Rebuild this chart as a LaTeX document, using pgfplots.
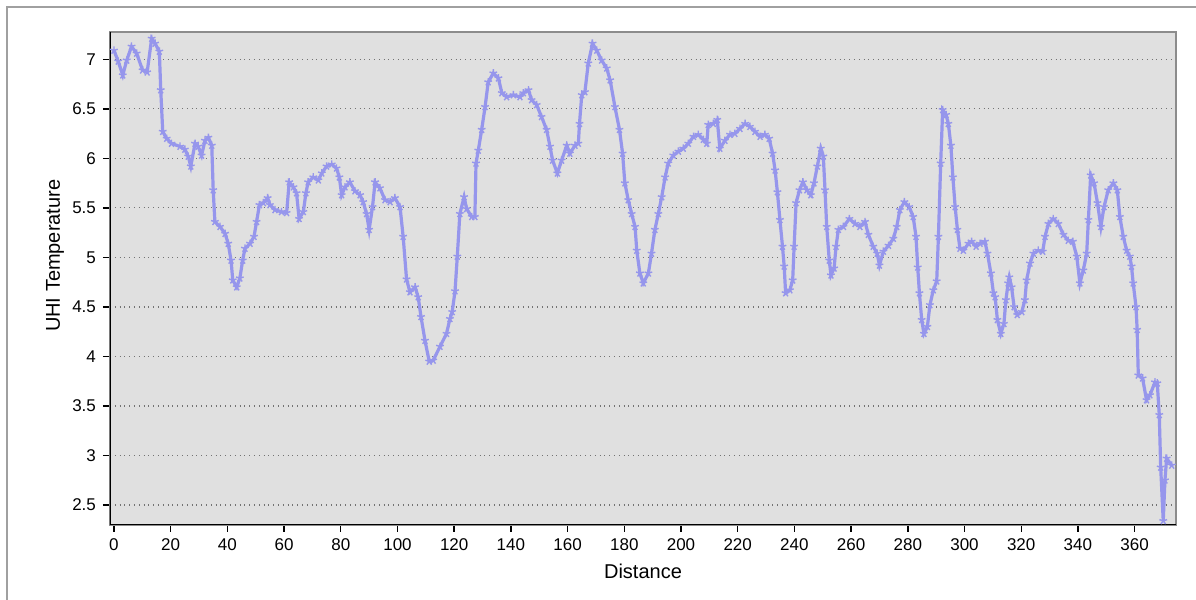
\documentclass[border=0pt]{standalone}
\usepackage{fontspec}
\setmainfont{Liberation Sans}
\usepackage{pgfplots}
\pgfplotsset{compat=1.18}
\definecolor{uhi}{RGB}{150,150,236}
\definecolor{bggray}{RGB}{224,224,224}
\definecolor{framegray}{RGB}{160,160,160}
\begin{document}
\begin{tikzpicture}
\useasboundingbox (-55pt,-37.5pt) rectangle (543pt,262.5pt);
\fill[white] (-55pt,-37.5pt) rectangle (543pt,262.5pt);
\draw[framegray, line width=0.6pt] (-51.5pt,-40pt) -- (-51.5pt,259pt) -- (546pt,259pt);
\begin{axis}[
  at={(0,0)}, anchor=south west,
  scale only axis,
  width=533pt, height=246.5pt,
  xmin=-1.4, xmax=374.6,
  ymin=2.298, ymax=7.276,
  xtick={0,20,...,360},
  ytick={2.5,3,3.5,4,4.5,5,5.5,6,6.5,7},
  yticklabels={2.5,3,3.5,4,4.5,5,5.5,6,6.5,7},
  /pgf/number format/assume math mode=true,
  tick align=outside,
  tick pos=left,
  major tick length=3.5pt,
  tick style={black, line width=0.7pt},
  ticklabel style={font=\fontsize{8.5}{10}\selectfont},
  ymajorgrids,
  grid style={dotted, black!55, line width=0.6pt},
  axis background/.style={fill=bggray},
  axis line style={black!45, line width=0.8pt},
  xlabel={Distance},
  ylabel={UHI Temperature},
  label style={font=\fontsize{10}{12}\selectfont},
  every axis x label/.style={at={(axis description cs:0.5,0)}, anchor=center, yshift=-23pt},
  every axis y label/.style={at={(axis description cs:-0.0516,0.546)}, anchor=center, rotate=90},
  clip=true,
]
\addplot[uhi, line width=1.6pt, mark=star, mark size=2pt, mark options={solid, line width=0.7pt}] coordinates {
(0,7.09) (1.5,6.98) (3.1,6.84) (4.5,6.99) (6.2,7.13) (8,7.06) (10.1,6.89) (11.7,6.87)
(13.3,7.21) (14.5,7.16) (16,7.08) (16.5,6.69) (17.2,6.27) (18.6,6.20) (20.3,6.15) (23.3,6.12)
(25,6.09) (26.2,6.02) (27.1,5.92) (28.6,6.15) (29.7,6.12) (30.9,6.03) (32.1,6.18) (33.3,6.21)
(34.5,6.13) (35,5.68) (35.6,5.36) (37.4,5.31) (39.2,5.24) (40.3,5.14) (41.3,4.97) (41.9,4.77)
(43.3,4.70) (44.4,4.79) (45.4,4.97) (46.2,5.09) (48,5.14) (49.4,5.21) (50.3,5.36) (51.3,5.53)
(52.7,5.55) (54.2,5.60) (55,5.53) (56.8,5.48) (59.1,5.46) (60.9,5.45) (61.8,5.76) (63.3,5.71)
(64.4,5.65) (65.3,5.39) (66.8,5.46) (67.7,5.65) (68.5,5.76) (70.3,5.81) (72.1,5.78) (73.3,5.85)
(75,5.92) (76.8,5.94) (78.5,5.90) (79.5,5.81) (80.3,5.63) (81.5,5.71) (83.2,5.76) (85,5.67)
(86.8,5.63) (87.9,5.56) (89.1,5.44) (90,5.28) (91.2,5.51) (92.1,5.76) (93.8,5.70) (95.6,5.58)
(97.4,5.56) (99.1,5.60) (100.9,5.51) (102,5.21) (103.2,4.78) (104.4,4.65) (106.2,4.70) (107.3,4.60)
(108.3,4.40) (109.7,4.16) (111.2,3.95) (112.6,3.96) (115,4.10) (117.3,4.23) (118.5,4.38) (119.3,4.45)
(120.3,4.66) (121.1,5.01) (122,5.44) (123.5,5.61) (124.4,5.49) (126.2,5.41) (127.3,5.41) (127.7,5.95)
(128.5,6.08) (129.7,6.29) (130.9,6.52) (132,6.77) (133.8,6.86) (135.6,6.81) (136.8,6.66) (138.5,6.62)
(140.9,6.64) (143.2,6.62) (144.4,6.66) (146.2,6.69) (147.3,6.59) (149.1,6.54) (150.8,6.42) (152.6,6.29)
(153.8,6.12) (154.7,5.98) (156.4,5.85) (157.9,5.98) (159.7,6.13) (160.8,6.05) (162.6,6.13) (163.8,6.15)
(164.2,6.35) (165,6.64) (166.1,6.67) (167.3,6.96) (168.8,7.16) (170.3,7.09) (172,6.99) (173.8,6.91)
(175,6.79) (176.7,6.52) (178.3,6.29) (179.4,6.05) (180.2,5.75) (181.4,5.58) (182.6,5.44) (183.8,5.31)
(184.4,5.07) (185.5,4.84) (186.7,4.74) (188.5,4.84) (189.6,5.04) (190.8,5.28) (192,5.44) (193.2,5.61)
(194.4,5.81) (195.5,5.95) (197.3,6.03) (199.1,6.07) (200.8,6.10) (202.6,6.15) (204.4,6.22) (206.1,6.24)
(207.9,6.19) (209.1,6.15) (209.6,6.34) (211.4,6.35) (212.8,6.39) (213.7,6.10) (215.5,6.18) (217.3,6.24)
(219,6.25) (220.8,6.30) (222.6,6.35) (224.3,6.32) (226.1,6.27) (227.9,6.22) (229.6,6.24) (231.1,6.20)
(232.3,6.05) (233.2,5.88) (234,5.66) (234.9,5.38) (235.8,5.11) (236.4,4.91) (236.9,4.64) (238.4,4.67)
(239.4,4.77) (239.9,5.11) (240.6,5.55) (241.8,5.68) (243,5.76) (244.4,5.68) (245.8,5.63) (246.9,5.75)
(248.1,5.92) (249.3,6.10) (250.2,6.02) (250.8,5.68) (251.4,5.31) (252.3,4.97) (252.9,4.82) (254,4.89)
(254.7,5.11) (255.5,5.28) (257.3,5.31) (259.4,5.39) (261.4,5.34) (263.1,5.31) (264.9,5.36) (266.1,5.23)
(267.8,5.11) (269.2,5.04) (270,4.92) (271.4,5.06) (273.2,5.12) (274.9,5.19) (276.1,5.31) (277.2,5.48)
(278.8,5.56) (280.5,5.51) (281.9,5.41) (282.9,5.21) (283.5,4.90) (284.1,4.64) (284.9,4.37) (285.7,4.23)
(286.9,4.30) (287.8,4.52) (289,4.67) (290.2,4.76) (290.8,5.21) (291.6,5.95) (292.3,6.49) (293.5,6.44)
(294.3,6.35) (295.2,6.13) (295.9,5.81) (296.7,5.51) (297.5,5.28) (298.4,5.09) (299.6,5.07) (301.4,5.14)
(302.5,5.16) (304.1,5.11) (305.5,5.14) (307.2,5.16) (308.1,5.04) (309.3,4.84) (310.2,4.64) (310.8,4.60)
(311.6,4.37) (312.8,4.23) (313.9,4.33) (314.6,4.57) (315.4,4.74) (315.8,4.80) (316.6,4.70) (317.5,4.50)
(318.6,4.42) (320.2,4.45) (321.3,4.57) (321.9,4.77) (323.1,4.94) (324.3,5.04) (326,5.07) (327.6,5.06)
(328.4,5.21) (329.6,5.34) (331.3,5.39) (333.1,5.34) (334.9,5.23) (336.6,5.17) (338.2,5.16) (339.6,5.01)
(340.7,4.74) (341.9,4.87) (343.1,5.04) (343.7,5.38) (344.5,5.83) (345.7,5.75) (346.9,5.55) (348.1,5.31)
(349.2,5.51) (350.7,5.68) (352.5,5.75) (353.9,5.68) (354.8,5.41) (356,5.21) (357.2,5.07) (358.3,5.01)
(358.9,4.91) (359.5,4.74) (360.5,4.50) (360.9,4.27) (361.3,3.81) (362.8,3.78) (364.2,3.56) (365.4,3.61)
(367.2,3.74) (368,3.73) (368.7,3.41) (369.2,2.88) (370.1,2.34) (370.7,2.75) (371.3,2.97) (373.1,2.90)
};
\draw[black, line width=1pt] (rel axis cs:0,1) -- (rel axis cs:0,0) -- (rel axis cs:1,0);
\end{axis}
\end{tikzpicture}
\end{document}
